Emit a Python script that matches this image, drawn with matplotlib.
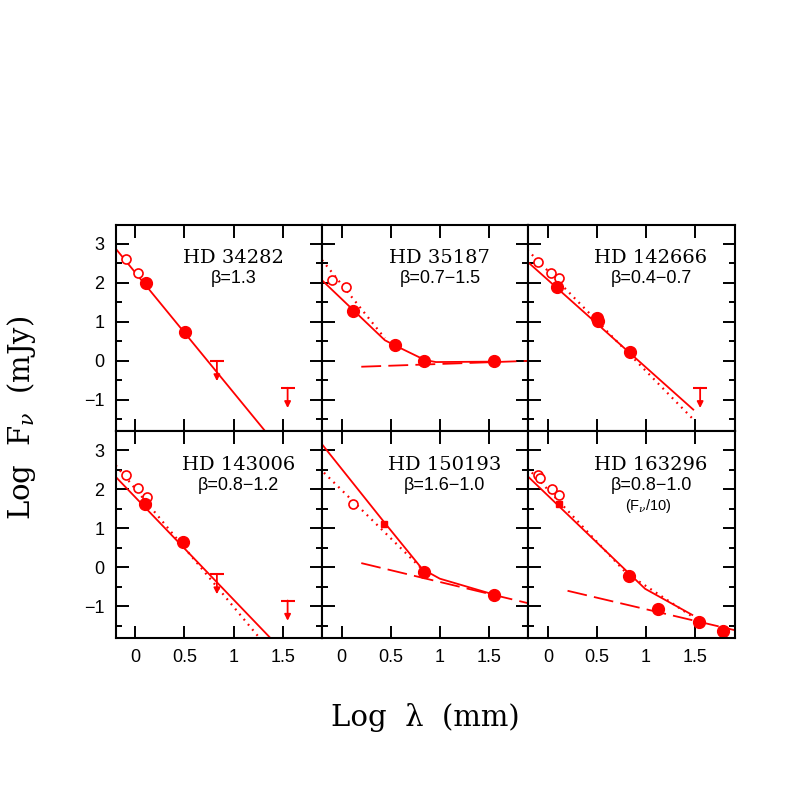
import numpy as np
import matplotlib
matplotlib.use("Agg")
import matplotlib.pyplot as plt
from matplotlib.ticker import FixedLocator, FuncFormatter

RED = "#ff0000"

# Donnees (log lambda en mm, log F_nu en mJy)
names = ["HD 34282", "HD 35187", "HD 142666", "HD 143006", "HD 150193", "HD 163296"]
betas = ["β=1.3", "β=0.7−1.5", "β=0.4−0.7", "β=0.8−1.2", "β=1.6−1.0", "β=0.8−1.0"]

open_x = [[-0.10, 0.03], [-0.10, 0.04], [-0.10, 0.03, 0.11],
          [-0.10, 0.03, 0.12], [0.12], [-0.10, -0.08, 0.04, 0.11]]
open_y = [[2.61, 2.26], [2.07, 1.90], [2.55, 2.26, 2.12],
          [2.36, 2.04, 1.80], [1.63], [2.36, 2.29, 2.02, 1.87]]

filled_x = [[0.11, 0.51], [0.12, 0.54, 0.84, 1.55], [0.09, 0.50, 0.51, 0.84],
            [0.10, 0.49], [0.84, 1.55], [0.83, 1.12, 1.54, 1.78]]
filled_y = [[2.00, 0.73], [1.29, 0.40, 0.00, 0.00], [1.89, 1.09, 1.03, 0.23],
            [1.62, 0.65], [-0.12, -0.72], [-0.23, -1.07, -1.39, -1.62]]

square_x = [[], [], [], [], [0.43], [0.11]]
square_y = [[], [], [], [], [1.12], [1.63]]

ulim_x = [[0.83, 1.55], [], [1.55], [0.83, 1.55], [], []]
ulim_y = [[0.00, -0.69], [], [-0.69], [-0.17, -0.85], [], []]

solid_x = [[-0.21, 1.34], [-0.20, 0.44, 0.54, 0.85, 0.96, 1.50], [-0.21, 1.48],
           [-0.21, 1.37], [-0.20, 0.43, 0.82, 1.00, 1.50], [-0.21, 0.99, 1.47]]
solid_y = [[2.91, -1.86], [2.07, 0.53, 0.40, 0.02, -0.03, -0.02], [2.55, -1.25],
           [2.35, -1.80], [3.16, 1.17, -0.04, -0.29, -0.66], [2.35, -0.55, -1.22]]

dotted_x = [[], [-0.20, 0.44], [-0.21, 1.48], [-0.20, 1.26], [-0.18, 0.81], [-0.21, 0.80, 1.47]]
dotted_y = [[], [2.59, 0.58], [2.85, -1.50], [2.62, -1.80], [2.43, -0.02], [2.56, -0.15, -1.26]]

dashed_x = [[], [0.20, 1.90], [], [], [0.20, 1.90], [0.20, 1.90]]
dashed_y = [[], [-0.15, 0.00], [], [], [0.11, -0.92], [-0.60, -1.61]]

plt.rcParams.update({
    "font.family": ["Liberation Sans", "DejaVu Sans"], "font.size": 13,
    "axes.linewidth": 1.5, "mathtext.fontset": "dejavuserif",
})

fig, axes = plt.subplots(2, 3, figsize=(7.97, 7.97), dpi=100, sharex=True, sharey=True)
fig.subplots_adjust(left=0.1452, right=0.9216, bottom=0.2001, top=0.7183,
                    wspace=0, hspace=0)

txt_x = [1.0, 1.0, 1.05, 1.05, 1.05, 1.05]

for i, ax in enumerate(axes.flat):
    if solid_x[i]:
        ax.plot(solid_x[i], solid_y[i], color=RED, lw=1.3)
    if dotted_x[i]:
        ax.plot(dotted_x[i], dotted_y[i], color=RED, lw=1.6, ls=(0, (0.8, 2.2)))
    if dashed_x[i]:
        ax.plot(dashed_x[i], dashed_y[i], color=RED, lw=1.3, ls=(0, (11, 4)))
    ax.plot(open_x[i], open_y[i], "o", mfc="white", mec=RED, mew=1.2, ms=6.5, ls="none")
    ax.plot(filled_x[i], filled_y[i], "o", color=RED, ms=8.5, ls="none")
    if square_x[i]:
        ax.plot(square_x[i], square_y[i], "s", color=RED, ms=4.5, ls="none")
    for ux, uy in zip(ulim_x[i], ulim_y[i]):
        ax.plot(ux, uy, "_", color=RED, ms=10, mew=1.5)
        ax.annotate("", xy=(ux, uy - 0.52), xytext=(ux, uy),
                    arrowprops=dict(arrowstyle="-|>", color=RED, lw=1.3,
                                    mutation_scale=9, shrinkA=0, shrinkB=0))
    ax.text(txt_x[i], 2.63 if i < 3 else 2.62, names[i], ha="center", va="center",
            family="DejaVu Serif", fontsize=14)
    ax.text(txt_x[i], 2.12 if i < 3 else 2.09, betas[i], ha="center", va="center",
            fontsize=13)

    ax.set_xlim(-0.2, 1.9)
    ax.set_ylim(-1.8, 3.5)
    ax.xaxis.set_major_locator(FixedLocator([0, 0.5, 1, 1.5]))
    ax.yaxis.set_major_locator(FixedLocator([-1, 0, 1, 2, 3]))
    ax.yaxis.set_minor_locator(FixedLocator([-1.5, -0.5, 0.5, 1.5, 2.5]))
    ax.tick_params(which="both", direction="in", top=True, right=True, width=1.4)
    ax.tick_params(which="major", length=9, pad=8)
    ax.tick_params(which="minor", length=4.5)

axes[1, 2].text(1.02, 1.57, r"(F$_\nu$/10)", ha="center", va="center", fontsize=10.5)

fmt = FuncFormatter(lambda v, _: f"{v:g}".replace("-", "\u2212"))
for ax in axes.flat:
    ax.xaxis.set_major_formatter(fmt)
    ax.yaxis.set_major_formatter(fmt)

fig.text(22 / 797, 1 - 418 / 797, r"Log  F$_\nu$  (mJy)", rotation=90,
         ha="center", va="center", family="DejaVu Serif", fontsize=21)
fig.text(425 / 797, 1 - 718 / 797, "Log  λ  (mm)", ha="center", va="center",
         family="DejaVu Serif", fontsize=21)

fig.savefig("out.png", dpi=100)
print("Saved: out.png")
